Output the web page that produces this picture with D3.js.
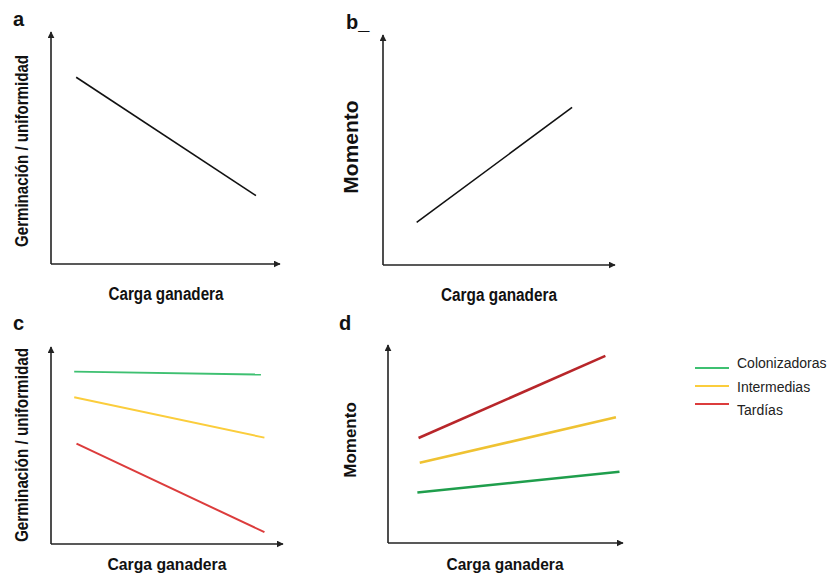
<!DOCTYPE html>
<html>
<head>
<meta charset="utf-8">
<script src="https://cdn.jsdelivr.net/npm/d3@7"></script>
<style>
  html, body { margin: 0; padding: 0; background: #fff; }
  svg { display: block; }
</style>
</head>
<body>
<svg id="chart" width="827" height="574"></svg>
<script>
/* Conceptual panels: carga ganadera vs germinación / momento */

// x and y values on an abstract 0–10 scale (no ticks in the original)
const xA = [1.1, 8.95];
const yA = [8.05, 2.95];

const xB = [1.45, 8.15];
const yB = [1.85, 6.85];

const groups = ['Colonizadoras', 'Intermedias', 'Tardías'];

const xC = [[1.0, 9.05], [1.0, 9.2], [1.1, 9.2]];
const yC = [[8.75, 8.6], [7.45, 5.4], [5.1, 0.6]];

const xD = [[1.25, 9.85], [1.35, 9.7], [1.3, 9.25]];
const yD = [[2.55, 3.6], [4.05, 6.35], [5.3, 9.45]];

const colorsC = ['#3ec071', '#fbcd3c', '#dc3c3c'];
const colorsD = ['#1f9e4c', '#efc232', '#b8262a'];

const svg = d3.select('#chart');
const SANS = '"Liberation Sans", Arial, Helvetica, sans-serif';

const defs = svg.append('defs');
defs.append('marker')
    .attr('id', 'arrow')
    .attr('viewBox', '0 0 10 10')
    .attr('refX', 9).attr('refY', 5)
    .attr('markerWidth', 7).attr('markerHeight', 7)
    .attr('markerUnits', 'userSpaceOnUse')
    .attr('orient', 'auto')
    .append('path')
    .attr('d', 'M0,0 L10,5 L0,10 Z')
    .attr('fill', '#222');

// bold label squeezed to its measured width (no narrow font installed)
function fitText(g, txt, size, len) {
    return g.append('text')
        .attr('text-anchor', 'middle')
        .attr('font-family', SANS)
        .attr('font-weight', 700)
        .attr('font-size', size)
        .attr('fill', '#111')
        .attr('textLength', len)
        .attr('lengthAdjust', 'spacingAndGlyphs')
        .text(txt);
}

function panel(opts) {
    const x = d3.scaleLinear().domain([0, 10]).range([opts.x0, opts.x1]);
    const y = d3.scaleLinear().domain([0, 10]).range([opts.y0, opts.y1]);
    const g = svg.append('g');

    // axes: plain lines with arrowheads
    g.append('line')
        .attr('x1', x(0)).attr('y1', y(0))
        .attr('x2', x(0)).attr('y2', y(10))
        .attr('stroke', '#222').attr('stroke-width', 1.6)
        .attr('marker-end', 'url(#arrow)');
    g.append('line')
        .attr('x1', x(0)).attr('y1', y(0))
        .attr('x2', x(10)).attr('y2', y(0))
        .attr('stroke', '#222').attr('stroke-width', 1.6)
        .attr('marker-end', 'url(#arrow)');

    // panel letter
    g.append('text')
        .attr('x', opts.letterX).attr('y', opts.letterY)
        .attr('font-family', SANS)
        .attr('font-weight', 700)
        .attr('font-size', '20px')
        .attr('fill', '#111')
        .text(opts.letter);

    // x label
    fitText(g, 'Carga ganadera', opts.xSize, opts.xLen)
        .attr('x', opts.xLabelX).attr('y', opts.xLabelY);

    // y label
    let yl;
    if (opts.yLen) {
        yl = fitText(g, opts.yLabel, '19px', opts.yLen);
    } else {
        yl = g.append('text')
            .attr('text-anchor', 'middle')
            .attr('font-family', SANS)
            .attr('font-weight', 700)
            .attr('font-size', opts.yFontSize)
            .attr('fill', '#111')
            .text(opts.yLabel);
    }
    yl.attr('transform', `translate(${opts.yLabelX}, ${opts.yLabelY}) rotate(-90)`);

    const line = d3.line().x(d => x(d[0])).y(d => y(d[1]));
    opts.series.forEach(s => {
        g.append('path')
            .datum(s.xs.map((v, i) => [v, s.ys[i]]))
            .attr('d', line)
            .attr('fill', 'none')
            .attr('stroke', s.color)
            .attr('stroke-width', s.width);
    });
    return { x, y, g };
}

panel({
    x0: 51, x1: 280, y0: 264, y1: 32,
    letter: 'a', letterX: 13, letterY: 26,
    xLabelX: 166, xLabelY: 300, xSize: '18px', xLen: 115,
    yLabel: 'Germinación / uniformidad', yLabelX: 28, yLabelY: 151, yLen: 192,
    series: [{ xs: xA, ys: yA, color: '#111', width: 1.6 }]
});

panel({
    x0: 383, x1: 615, y0: 265, y1: 35,
    letter: 'b_', letterX: 346, letterY: 29,
    xLabelX: 499, xLabelY: 301, xSize: '18px', xLen: 116,
    yLabel: 'Momento', yLabelX: 358, yLabelY: 147,
    yFontSize: '21px',
    series: [{ xs: xB, ys: yB, color: '#111', width: 1.6 }]
});

panel({
    x0: 51, x1: 283, y0: 544, y1: 347,
    letter: 'c', letterX: 13, letterY: 330,
    xLabelX: 167, xLabelY: 570, xSize: '17px', xLen: 119,
    yLabel: 'Germinación / uniformidad', yLabelX: 28, yLabelY: 445, yLen: 194,
    series: groups.map((k, i) => ({ xs: xC[i], ys: yC[i], color: colorsC[i], width: 2 }))
});

panel({
    x0: 388, x1: 623, y0: 543, y1: 345,
    letter: 'd', letterX: 339, letterY: 330,
    xLabelX: 505, xLabelY: 570, xSize: '17px', xLen: 117,
    yLabel: 'Momento', yLabelX: 356, yLabelY: 440,
    yFontSize: '17px',
    series: groups.map((k, i) => ({ xs: xD[i], ys: yD[i], color: colorsD[i], width: 2.6 }))
});

// legend
const legend = svg.append('g').attr('transform', 'translate(695, 368)');
const leg = legend.selectAll('g')
    .data(groups)
    .enter()
    .append('g');
leg.append('line')
    .attr('x1', 0).attr('x2', 34)
    .attr('y1', (d, i) => i * 18).attr('y2', (d, i) => i * 18)
    .attr('stroke', (d, i) => colorsC[i])
    .attr('stroke-width', 2.2);
leg.append('text')
    .attr('x', 42).attr('y', (d, i) => i * 23.5)
    .attr('font-family', SANS)
    .attr('font-size', '14px')
    .attr('fill', '#222')
    .text(d => d);
</script>
</body>
</html>
